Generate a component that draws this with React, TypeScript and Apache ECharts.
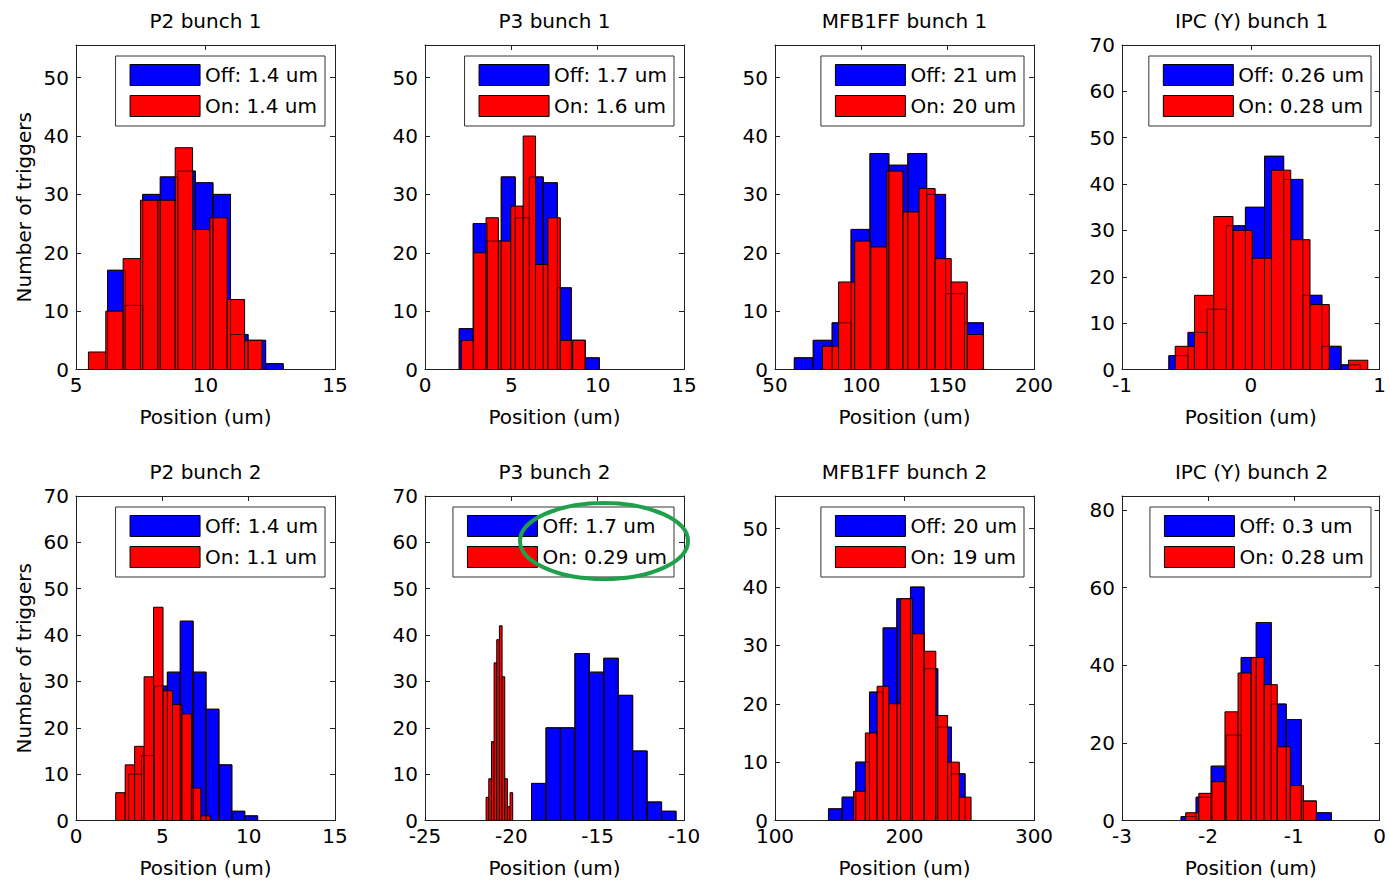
import React, { useEffect, useRef } from 'react';
import * as echarts from 'echarts';

const FONT = 'DejaVu Sans';

// Panel titles (row-major: bunch 1 on top, bunch 2 below)
const titles = ['P2 bunch 1', 'P3 bunch 1', 'MFB1FF bunch 1', 'IPC (Y) bunch 1', 'P2 bunch 2', 'P3 bunch 2', 'MFB1FF bunch 2', 'IPC (Y) bunch 2'];
const offLabels = ['Off: 1.4 um', 'Off: 1.7 um', 'Off: 21 um', 'Off: 0.26 um', 'Off: 1.4 um', 'Off: 1.7 um', 'Off: 20 um', 'Off: 0.3 um'];
const onLabels = ['On: 1.4 um', 'On: 1.6 um', 'On: 20 um', 'On: 0.28 um', 'On: 1.1 um', 'On: 0.29 um', 'On: 19 um', 'On: 0.28 um'];

// Axis ranges
const xMins = [5, 0, 50, -1, 0, -25, 100, -3];
const xMaxs = [15, 15, 200, 1, 15, -10, 300, 0];
const xSteps = [5, 5, 50, 1, 5, 5, 100, 1];
const yMaxs = [55.6, 55.6, 55.6, 70, 70, 70, 55.6, 83.6];
const ySteps = [10, 10, 10, 10, 10, 10, 10, 20];

// Histogram ranges (lowest and highest bin edge) for feedback off / on
const offRanges = [[6.22, 13.0], [1.98, 10.1], [61.2, 170.7], [-0.636, 0.849], [3.05, 10.52], [-18.83, -10.46], [141.3, 246.8], [-2.312, -0.562]];
const onRanges = [[5.48, 12.18], [2.1, 9.27], [77.5, 170.7], [-0.587, 0.908], [2.3, 7.78], [-21.46, -19.92], [160.7, 251.4], [-2.258, -0.735]];

// Counts per bin (10 bins each)
const p2b1Off = [17, 11, 30, 33, 34, 32, 30, 6, 5, 1];
const p2b1On = [3, 10, 19, 29, 29, 38, 24, 26, 12, 5];
const p3b1Off = [7, 25, 22, 33, 26, 33, 32, 14, 5, 2];
const p3b1On = [5, 20, 26, 22, 28, 40, 18, 26, 5, 5];
const mfbb1Off = [2, 5, 8, 24, 37, 35, 37, 30, 13, 8];
const mfbb1On = [4, 15, 22, 21, 34, 27, 31, 19, 15, 6];
const ipcb1Off = [3, 8, 13, 31, 35, 46, 41, 16, 5, 1];
const ipcb1On = [5, 16, 33, 30, 24, 43, 28, 14, 0, 2];
const p2b2Off = [10, 14, 29, 32, 43, 32, 24, 12, 2, 1];
const p2b2On = [6, 12, 16, 31, 46, 28, 25, 23, 7, 1];
const p3b2Off = [8, 20, 20, 36, 32, 35, 27, 15, 4, 2];
const p3b2On = [5, 9, 17, 34, 39, 42, 31, 9, 3, 6];
const mfbb2Off = [2, 4, 10, 22, 33, 38, 40, 26, 16, 8];
const mfbb2On = [5, 15, 23, 20, 38, 32, 29, 18, 10, 4];
const ipcb2Off = [1, 6, 14, 22, 42, 51, 30, 26, 5, 2];
const ipcb2On = [2, 7, 10, 28, 38, 42, 35, 19, 9, 5];

const offCounts = [p2b1Off, p3b1Off, mfbb1Off, ipcb1Off, p2b2Off, p3b2Off, mfbb2Off, ipcb2Off];
const onCounts = [p2b1On, p3b1On, mfbb1On, ipcb1On, p2b2On, p3b2On, mfbb2On, ipcb2On];

const yLabel = 'Number of triggers';
const xLabel = 'Position (um)';

// Layout
const W = 1389;
const H = 882;
const gridLefts = [76, 425, 775, 1122];
const gridTops = [45, 496];
const gridW = 259;
const gridH = 324.5;

function bins(range: number[], counts: number[]) {
  const [lo, hi] = range;
  const w = (hi - lo) / counts.length;
  return counts.map((c, k) => [lo + k * w, lo + (k + 1) * w, c]);
}

const renderBar = (fill: string, stroke: string, lw: number) => (params: any, api: any) => {
  const c = api.value(2);
  if (!c) return null;
  const p0 = api.coord([api.value(0), c]);
  const p1 = api.coord([api.value(1), 0]);
  return {
    type: 'rect',
    shape: { x: p0[0], y: p0[1], width: p1[0] - p0[0], height: p1[1] - p0[1] },
    style: { fill, stroke, lineWidth: lw },
  };
};

const AX = '#222';
const txt = { fontFamily: FONT, fontSize: 20, color: '#000' };

function buildOption() {
  const grid: any[] = [];
  const xAxis: any[] = [];
  const yAxis: any[] = [];
  const series: any[] = [];
  const legend: any[] = [];
  const graphic: any[] = [];

  titles.forEach((t, i) => {
    const left = gridLefts[i % 4];
    const top = gridTops[Math.floor(i / 4)];
    grid.push({ left, top, width: gridW, height: gridH, show: false });
    const xBase = {
      type: 'value', gridIndex: i, min: xMins[i], max: xMaxs[i], interval: xSteps[i],
      splitLine: { show: false },
      axisLine: { show: true, onZero: false, lineStyle: { color: AX, width: 1 } },
      axisTick: { show: true, inside: true, length: 5, lineStyle: { color: AX } },
    };
    xAxis.push({
      ...xBase, position: 'bottom',
      axisLabel: { ...txt, margin: 5 },
      name: xLabel, nameLocation: 'middle', nameGap: 37, nameTextStyle: txt,
    });
    xAxis.push({ ...xBase, position: 'top', axisLabel: { show: false } });
    const step = ySteps[i];
    const yBase = {
      type: 'value', gridIndex: i, min: 0, max: yMaxs[i], interval: step,
      splitLine: { show: false },
      axisLine: { show: true, onZero: false, lineStyle: { color: AX, width: 1 } },
      axisTick: { show: true, inside: true, length: 5, lineStyle: { color: AX } },
    };
    yAxis.push({
      ...yBase, position: 'left',
      axisLabel: { ...txt, margin: 7, formatter: (v: number) => (Math.abs(v / step - Math.round(v / step)) < 1e-6 ? String(v) : '') },
      ...(i % 4 === 0 ? { name: yLabel, nameLocation: 'middle', nameGap: 42, nameTextStyle: txt } : {}),
    });
    yAxis.push({ ...yBase, position: 'right', axisLabel: { show: false } });

    const common = {
      type: 'custom', coordinateSystem: 'cartesian2d', xAxisIndex: 2 * i, yAxisIndex: 2 * i,
      encode: { x: [0, 1], y: 2 }, silent: true, clip: true,
    };
    series.push({ ...common, name: offLabels[i], itemStyle: { color: '#0000ff' }, z: 2, renderItem: renderBar('#0000ff', '#000', 1), data: bins(offRanges[i], offCounts[i]) });
    series.push({ ...common, name: onLabels[i], itemStyle: { color: '#ff0000' }, z: 3, renderItem: renderBar('#ff0000', '#000', 1), data: bins(onRanges[i], onCounts[i]) });
    series.push({ ...common, name: 'edges' + i, z: 4, renderItem: renderBar('none', 'rgba(40,0,0,0.8)', 1), data: bins(offRanges[i], offCounts[i]) });

    legend.push({
      data: [offLabels[i], onLabels[i]],
      orient: 'vertical', right: W - (left + gridW - 10), top: top + 11,
      itemWidth: 70, itemHeight: 21, itemGap: 9, padding: [8, 7, 9, 14],
      icon: 'rect', selectedMode: false,
      backgroundColor: '#fff', borderColor: '#333', borderWidth: 1,
      itemStyle: { borderColor: '#000', borderWidth: 1 },
      textStyle: { ...txt, lineHeight: 21 },
    });

    graphic.push({
      type: 'text', x: left + gridW / 2, y: top - 24, z: 50,
      style: { text: t, fontFamily: FONT, fontSize: 20, fill: '#000', align: 'center', verticalAlign: 'middle' },
    });
  });

  graphic.push({
    type: 'ellipse', z: 100,
    shape: { cx: 604, cy: 541, rx: 84, ry: 38 },
    style: { fill: 'none', stroke: '#20a04c', lineWidth: 4 },
  });

  return { animation: false, backgroundColor: '#fff', grid, xAxis, yAxis, series, legend, graphic };
}

export default function App() {
  const ref = useRef<HTMLDivElement>(null);
  useEffect(() => {
    const chart = echarts.init(ref.current!, null, { renderer: 'svg' });
    chart.setOption(buildOption() as any);
    return () => chart.dispose();
  }, []);
  return <div ref={ref} style={{ position: 'fixed', left: 0, top: 0, width: W, height: H, background: '#fff' }} />;
}
